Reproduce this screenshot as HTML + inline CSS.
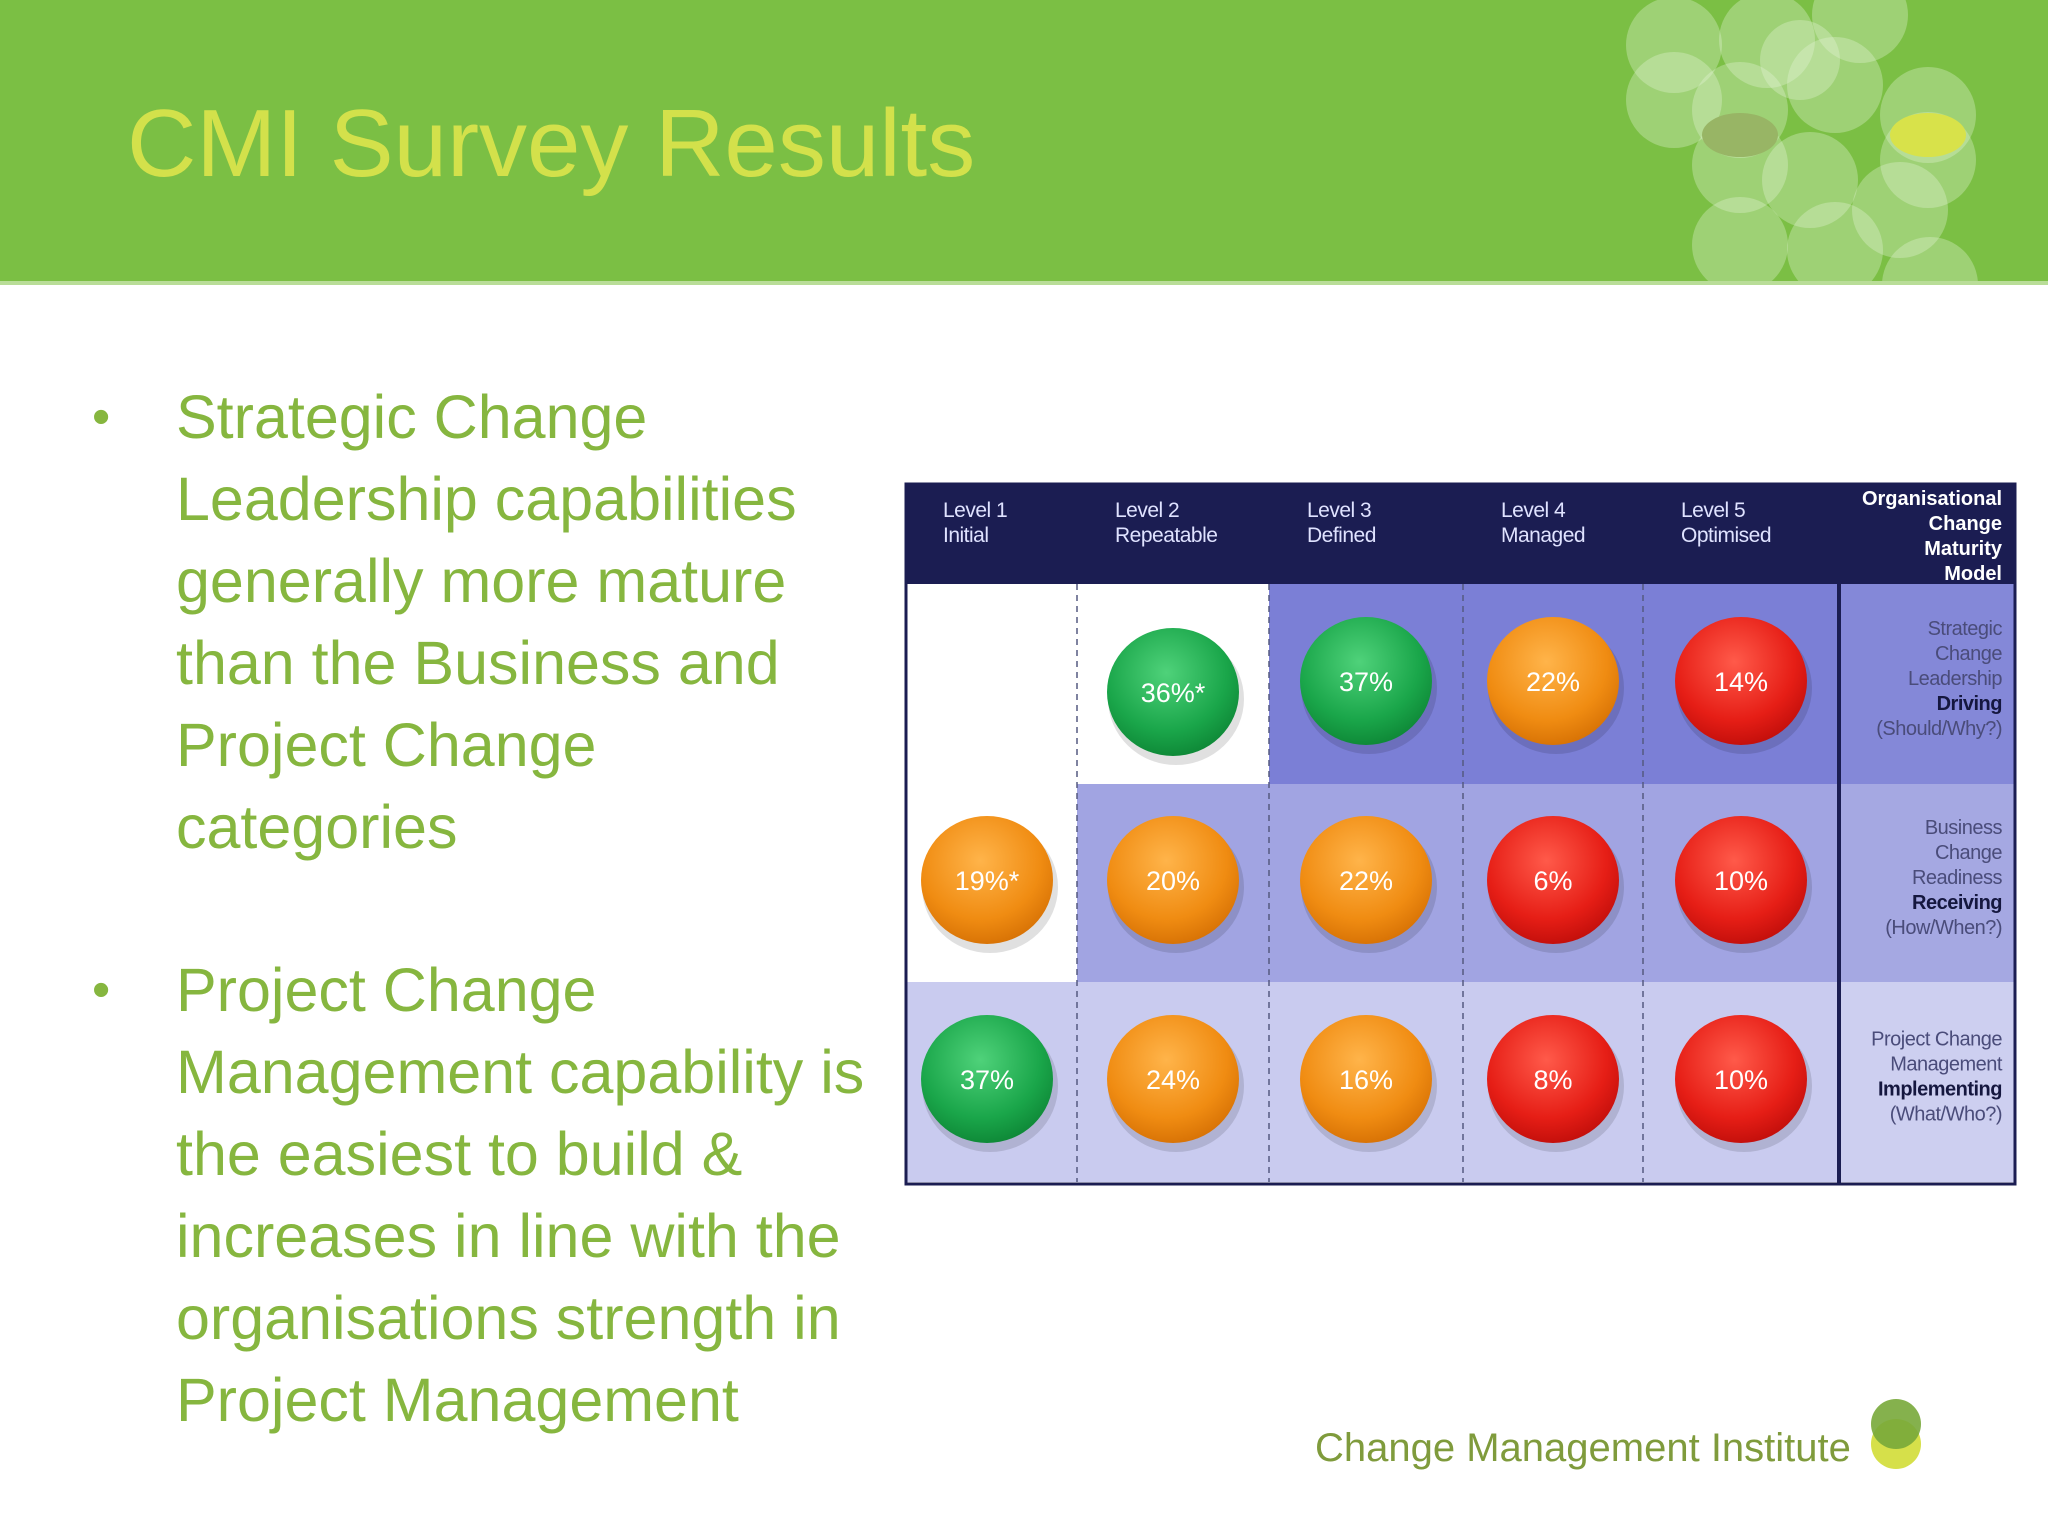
<!DOCTYPE html>
<html><head><meta charset="utf-8"><style>
body{margin:0;width:2048px;height:1536px;overflow:hidden;background:#fff;font-family:"Liberation Sans",sans-serif;position:relative}
.hdr{position:absolute;left:0;top:0;width:2048px;height:281px;background:#7bbf44;border-bottom:4px solid #b9dd98;overflow:hidden}
.title{position:absolute;left:127px;top:89px;font-size:96px;color:#d3e14b;white-space:nowrap}
.bul{position:absolute;left:0;font-size:61px;color:#86b63f;line-height:82px}
.bul .dot{position:absolute;left:92px;top:0;font-size:52px}
.bul .tx{position:absolute;left:176px;top:0;white-space:nowrap}
.foot{position:absolute;left:1315px;top:1426px;font-size:40px;color:#7f9b3c;white-space:nowrap}
</style></head><body>
<div class="hdr">
<svg width="2048" height="281" style="position:absolute;left:0;top:0">
<g fill="#e8f5dc" fill-opacity="0.33">
<circle cx="1674" cy="45" r="48"/><circle cx="1767" cy="40" r="48"/><circle cx="1860" cy="15" r="48"/>
<circle cx="1674" cy="100" r="48"/><circle cx="1740" cy="110" r="48"/><circle cx="1835" cy="85" r="48"/>
<circle cx="1928" cy="115" r="48"/><circle cx="1740" cy="165" r="48"/><circle cx="1810" cy="180" r="48"/>
<circle cx="1740" cy="245" r="48"/><circle cx="1835" cy="250" r="48"/><circle cx="1900" cy="210" r="48"/>
<circle cx="1928" cy="160" r="48"/><circle cx="1930" cy="285" r="48"/><circle cx="1800" cy="60" r="40"/>
</g>
<ellipse cx="1740" cy="135" rx="38" ry="22" fill="#98b565"/>
<ellipse cx="1928" cy="135" rx="38" ry="22" fill="#d8e24a"/>
</svg>
<div class="title">CMI Survey Results</div>
</div>
<div class="bul" style="top:376px"><span class="dot">•</span><div class="tx">Strategic Change<br>Leadership capabilities<br>generally more mature<br>than the Business and<br>Project Change<br>categories</div></div>
<div class="bul" style="top:949px"><span class="dot">•</span><div class="tx">Project Change<br>Management capability is<br>the easiest to build &amp;<br>increases in line with the<br>organisations strength in<br>Project Management</div></div>
<svg id="tbl" width="2048" height="1536" style="position:absolute;left:0;top:0">
<defs>
<radialGradient id="gg" cx="45%" cy="35%" r="65%"><stop offset="0" stop-color="#4fd27a"/><stop offset="0.7" stop-color="#1aa64a"/><stop offset="1" stop-color="#0f8a38"/></radialGradient>
<radialGradient id="go" cx="45%" cy="35%" r="65%"><stop offset="0" stop-color="#ffb44a"/><stop offset="0.7" stop-color="#f08c12"/><stop offset="1" stop-color="#d97406"/></radialGradient>
<radialGradient id="gr" cx="45%" cy="35%" r="65%"><stop offset="0" stop-color="#ff5a4a"/><stop offset="0.7" stop-color="#e61e16"/><stop offset="1" stop-color="#c5100c"/></radialGradient>
</defs>
</svg>
<div class="foot">Change Management Institute</div>
<svg width="60" height="80" style="position:absolute;left:1868px;top:1398px">
<circle cx="28" cy="46" r="25" fill="#d6e04a"/><circle cx="28" cy="26" r="25" fill="#78a83a" fill-opacity="0.9"/>
</svg>
<script>
const levels=["Level 1","Level 2","Level 3","Level 4","Level 5"];
const levelNames=["Initial","Repeatable","Defined","Managed","Optimised"];
const rowValues=[[null,"36%*","37%","22%","14%"],["19%*","20%","22%","6%","10%"],["37%","24%","16%","8%","10%"]];
const rowColors=[[null,"g","g","o","r"],["o","o","o","r","r"],["g","o","o","r","r"]];
const rowLabels=[["Strategic","Change","Leadership","Driving","(Should/Why?)"],["Business","Change","Readiness","Receiving","(How/When?)"],["Project Change","Management","Implementing","(What/Who?)"]];
const boldIdx=[3,3,2];
const colX=[905,1077,1269,1463,1643,1839,2015];
const rowY=[584,784,982,1182];
const svg=document.getElementById('tbl');const NS="http://www.w3.org/2000/svg";
function mk(t,a,p){const e=document.createElementNS(NS,t);for(const k in a)e.setAttribute(k,a[k]);(p||svg).appendChild(e);return e;}
const fills=[["#fff","#fff","#7b7fd6","#7b7fd6","#7b7fd6","#8488d8"],["#fff","#a1a4e2","#a1a4e2","#a1a4e2","#a1a4e2","#a5a8e2"],["#c9cbef","#c9cbef","#c9cbef","#c9cbef","#c9cbef","#cdcff0"]];
let r0=mk('rect',{x:905,y:483,width:1110,height:101,fill:"#1b1d52"});


for(let r=0;r<3;r++)for(let c=0;c<6;c++){const e=mk('rect',{x:colX[c],y:rowY[r],width:colX[c+1]-colX[c],height:rowY[r+1]-rowY[r],fill:fills[r][c]});

}
for(let c=1;c<5;c++){const l=mk('line',{x1:colX[c],y1:584,x2:colX[c],y2:1182,stroke:"#555a80","stroke-width":1.5,"stroke-dasharray":"6,5"});

}
mk('line',{x1:1839,y1:483,x2:1839,y2:1184,stroke:"#1b1d52","stroke-width":4});
mk('rect',{x:906,y:484,width:1109,height:700,fill:"none",stroke:"#1b1d52","stroke-width":3});
for(let c=0;c<5;c++){const t=mk('text',{x:colX[c]+38,y:517,fill:"#dfe2ff","font-size":21,"letter-spacing":-0.5});


t.textContent=levels[c];
const t2=mk('text',{x:colX[c]+38,y:542,fill:"#dfe2ff","font-size":21,"letter-spacing":-0.5});


t2.textContent=levelNames[c];}
["Organisational","Change","Maturity","Model"].forEach((s,i)=>{const t=mk('text',{x:2002,y:505+i*25,fill:"#fff","font-size":20,"font-weight":"bold","text-anchor":"end"});


t.textContent=s;});
for(let r=0;r<3;r++){const n=rowLabels[r].length;const cy=(rowY[r]+rowY[r+1])/2-(n-1)*12.5+1;
rowLabels[r].forEach((s,i)=>{const t=mk('text',{x:2002,y:cy+i*25,fill:i==boldIdx[r]?"#15173f":"#4a4c7a","font-size":20,"font-weight":i==boldIdx[r]?"bold":"normal","text-anchor":"end","letter-spacing":-0.5});


t.textContent=s;});
for(let c=0;c<5;c++){const v=rowValues[r][c];if(!v)continue;const cx=(colX[c]+colX[c+1])/2-(c==0?4:0);const cy2=(rowY[r]+rowY[r+1])/2+(r==0&&c==1?8:-3);
const g=mk('g',{});


mk('ellipse',{cx:cx+3,cy:cy2+7,rx:68,ry:66,fill:"#000","fill-opacity":0.12},g);
mk('ellipse',{cx:cx,cy:cy2,rx:66,ry:64,fill:"url(#g"+rowColors[r][c]+")"},g);
const t=mk('text',{x:cx,y:cy2+10,fill:"#fff","font-size":27,"text-anchor":"middle"},g);
t.textContent=v;}}
</script>
</body></html>
